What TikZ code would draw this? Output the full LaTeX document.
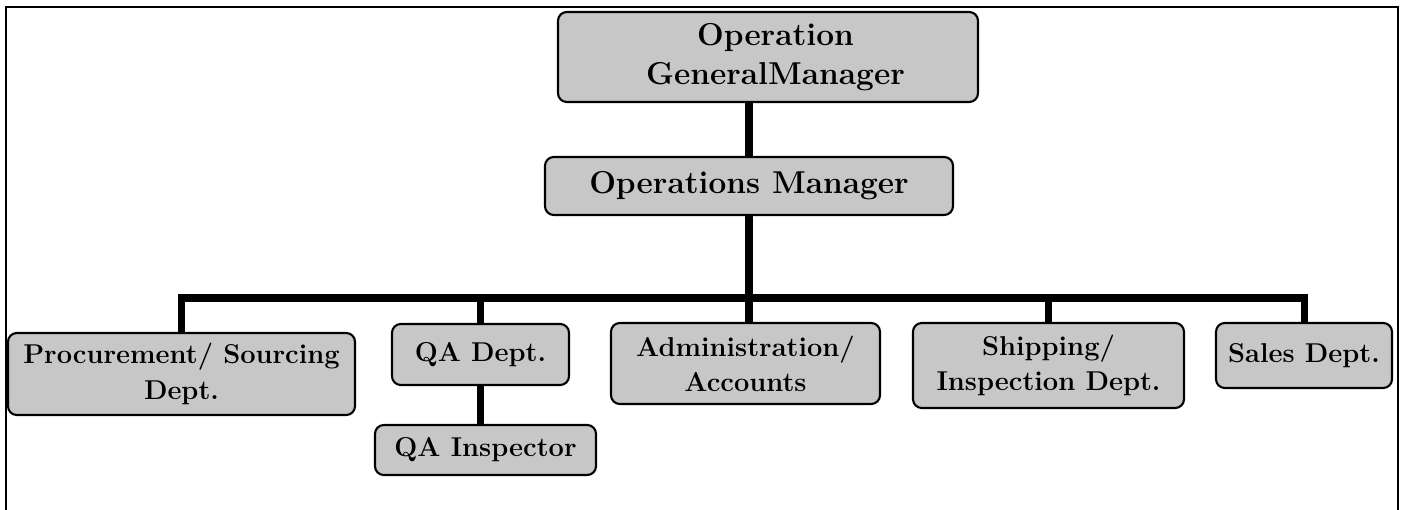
\documentclass[tikz,border=0pt]{standalone}
\usepackage{tikz}

\begin{document}
\begin{tikzpicture}[
	box/.style={draw,line width=1.2pt,rounded corners=5pt,fill=black!22,inner sep=0pt,align=center,font=\fontsize{18}{22}\selectfont\bfseries},
	dept/.style={box,font=\fontsize{15.5}{20}\selectfont\bfseries},
	link/.style={line width=4pt},
	frame/.style={line width=1.6pt}]
	\useasboundingbox (0,0) rectangle (28.06,10.2);
	\draw[frame] (0.12,0) -- (0.12,10.06) -- (27.96,10.06) -- (27.96,0);

	\node[box,minimum width=8.4cm,minimum height=1.8cm] (gm) at (15.36,9.06) {\hspace*{0.3cm}Operation\\\hspace*{0.3cm}GeneralManager};
	\node[box,minimum width=8.16cm,minimum height=1.16cm] (om) at (14.98,6.48) {Operations Manager};

	\node[dept,minimum width=6.94cm,minimum height=1.64cm] (proc) at (3.63,2.72) {Procurement/ Sourcing\\Dept.};
	\node[dept,minimum width=3.54cm,minimum height=1.22cm] (qa) at (9.61,3.11) {QA Dept.};
	\node[dept,minimum width=4.42cm,minimum height=1.0cm] (insp) at (9.71,1.2) {QA Inspector};
	\node[dept,minimum width=5.38cm,minimum height=1.62cm] (admin) at (14.91,2.93) {Administration/\\Accounts};
	\node[dept,minimum width=5.42cm,minimum height=1.7cm] (ship) at (20.97,2.89) {Shipping/\\Inspection Dept.};
	\node[dept,minimum width=3.52cm,minimum height=1.3cm] (sales) at (26.08,3.09) {Sales Dept.};

	\coordinate (bus) at (0,4.24);
	\draw[link] (gm.south -| om.north) -- (om.north);
	\draw[link] (om.south) -- (om.south |- admin.north);
	\draw[link] (proc.north) -- (proc.north |- bus) -| (sales.north);
	\draw[link] (qa.north) -- (qa.north |- bus);
	\draw[link] (ship.north) -- (ship.north |- bus);
	\draw[link] (qa.south) -- (qa.south |- insp.north);

\end{tikzpicture}
\end{document}
